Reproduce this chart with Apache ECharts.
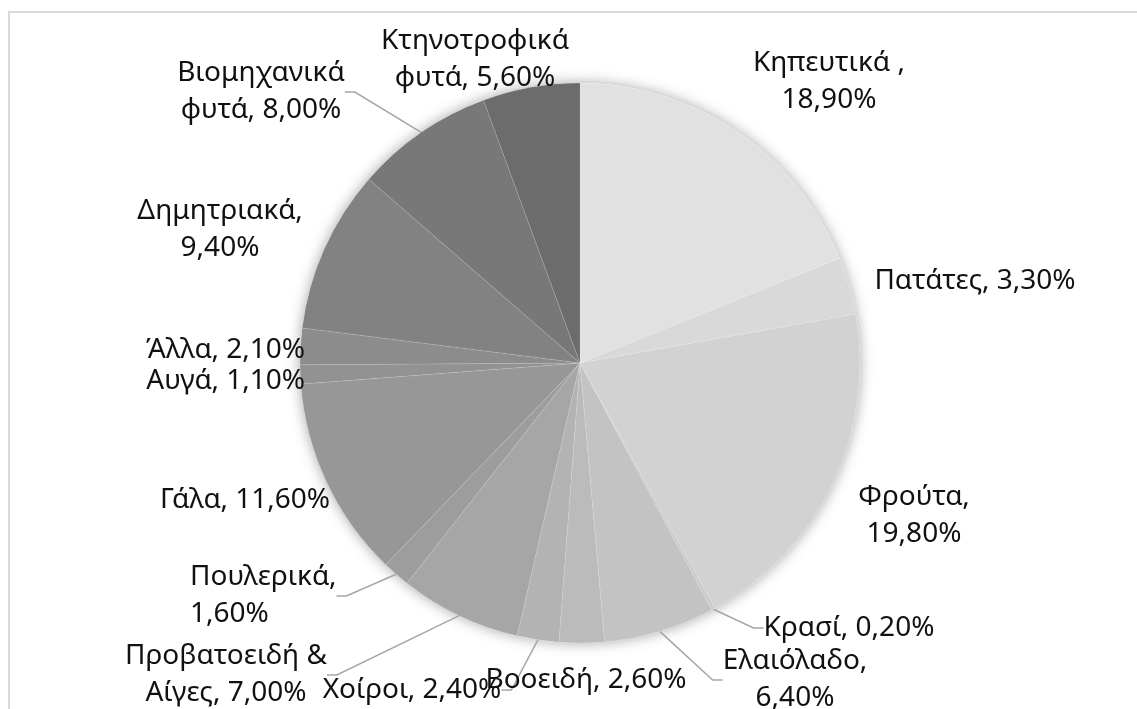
<!DOCTYPE html>
<html>
<head>
<meta charset="utf-8">
<script src="https://cdn.jsdelivr.net/npm/echarts@6/dist/echarts.min.js"></script>
<style>
html,body{margin:0;padding:0;background:#fff;}
#chart{width:1137px;height:709px;}
</style>
</head>
<body>
<div id="chart"></div>
<script>
// ---- data ----
var categories = ['Κηπευτικά ', 'Πατάτες', 'Φρούτα', 'Κρασί', 'Ελαιόλαδο', 'Βοοειδή', 'Χοίροι',
  'Προβατοειδή & Αίγες', 'Πουλερικά', 'Γάλα', 'Αυγά', 'Άλλα', 'Δημητριακά', 'Βιομηχανικά φυτά', 'Κτηνοτροφικά φυτά'];
var values = [18.9, 3.3, 19.8, 0.2, 6.4, 2.6, 2.4, 7.0, 1.6, 11.6, 1.1, 2.1, 9.4, 8.0, 5.6];

// ---- styling / layout ----
var colors = ['#e1e1e1', '#d9d9d9', '#d2d2d2', '#cbcbcb', '#c3c3c3', '#bbbbbb', '#b3b3b3',
  '#a6a6a6', '#9d9d9d', '#979797', '#929292', '#8c8c8c', '#828282', '#787878', '#6c6c6c'];
// 0: "name, v"  1: "name,\nv"  2: break inside name
var wrapMode = [1, 0, 1, 0, 1, 0, 0, 2, 1, 0, 0, 0, 1, 2, 2];
var showLine = [false, false, false, true, true, false, true, true, true, false, false, false, false, true, false];
// label anchor [x, y, align]
var labelPos = [
  [829, 82, 'center'], [975, 281, 'center'], [914, 516, 'center'], [849, 628, 'center'],
  [795, 680, 'center'], [586, 680, 'center'], [412, 690, 'center'], [226, 675, 'center'],
  [190, 596, 'left'], [245, 500, 'center'], [305, 381, 'right'], [305, 350, 'right'],
  [220, 230, 'center'], [261, 92, 'center'], [475, 60, 'center']
];

function fmtVal(v) { return v.toFixed(2).replace('.', ',') + '%'; }

var data = categories.map(function (n, i) {
  return {
    name: n,
    value: values[i],
    itemStyle: { color: colors[i] },
    labelLine: { show: showLine[i] }
  };
});

var chart = echarts.init(document.getElementById('chart'));
chart.setOption({
  backgroundColor: '#fff',
  animation: false,
  graphic: [{
    type: 'rect', silent: true, z: -10,
    shape: { x: 9, y: 12, width: 1300, height: 900 },
    style: { fill: 'none', stroke: '#d9d9d9', lineWidth: 2 }
  }],
  series: [{
    type: 'pie',
    silent: true,
    z: 1,
    center: [580, 363],
    radius: 280,
    label: { show: false },
    labelLine: { show: false },
    itemStyle: { color: '#fff', shadowBlur: 14, shadowColor: 'rgba(0,0,0,0.35)' },
    data: [{ value: 1 }]
  }, {
    type: 'pie',
    z: 2,
    center: [580, 363],
    radius: 280,
    startAngle: 90,
    clockwise: true,
    avoidLabelOverlap: false,
    itemStyle: { borderColor: 'rgba(255,255,255,0.18)', borderWidth: 0.6 },
    label: {
      show: true,
      position: 'outside',
      fontFamily: 'Noto Sans',
      fontSize: 28,
      lineHeight: 37,
      color: '#111111',
      formatter: function (p) {
        var i = p.dataIndex, n = categories[i], v = fmtVal(values[i]);
        if (wrapMode[i] === 1) return n + ',\n' + v;
        if (wrapMode[i] === 2) return n.replace(/ (\S+)$/, '\n$1') + ', ' + v;
        return n + ', ' + v;
      }
    },
    labelLine: { length: 20, length2: 10, lineStyle: { color: '#a6a6a6', width: 1.5 } },
    labelLayout: function (params) {
      var p = labelPos[params.dataIndex];
      return { x: p[0], y: p[1], align: p[2], verticalAlign: 'middle' };
    },
    emphasis: { disabled: true },
    data: data
  }]
});
</script>
</body>
</html>
